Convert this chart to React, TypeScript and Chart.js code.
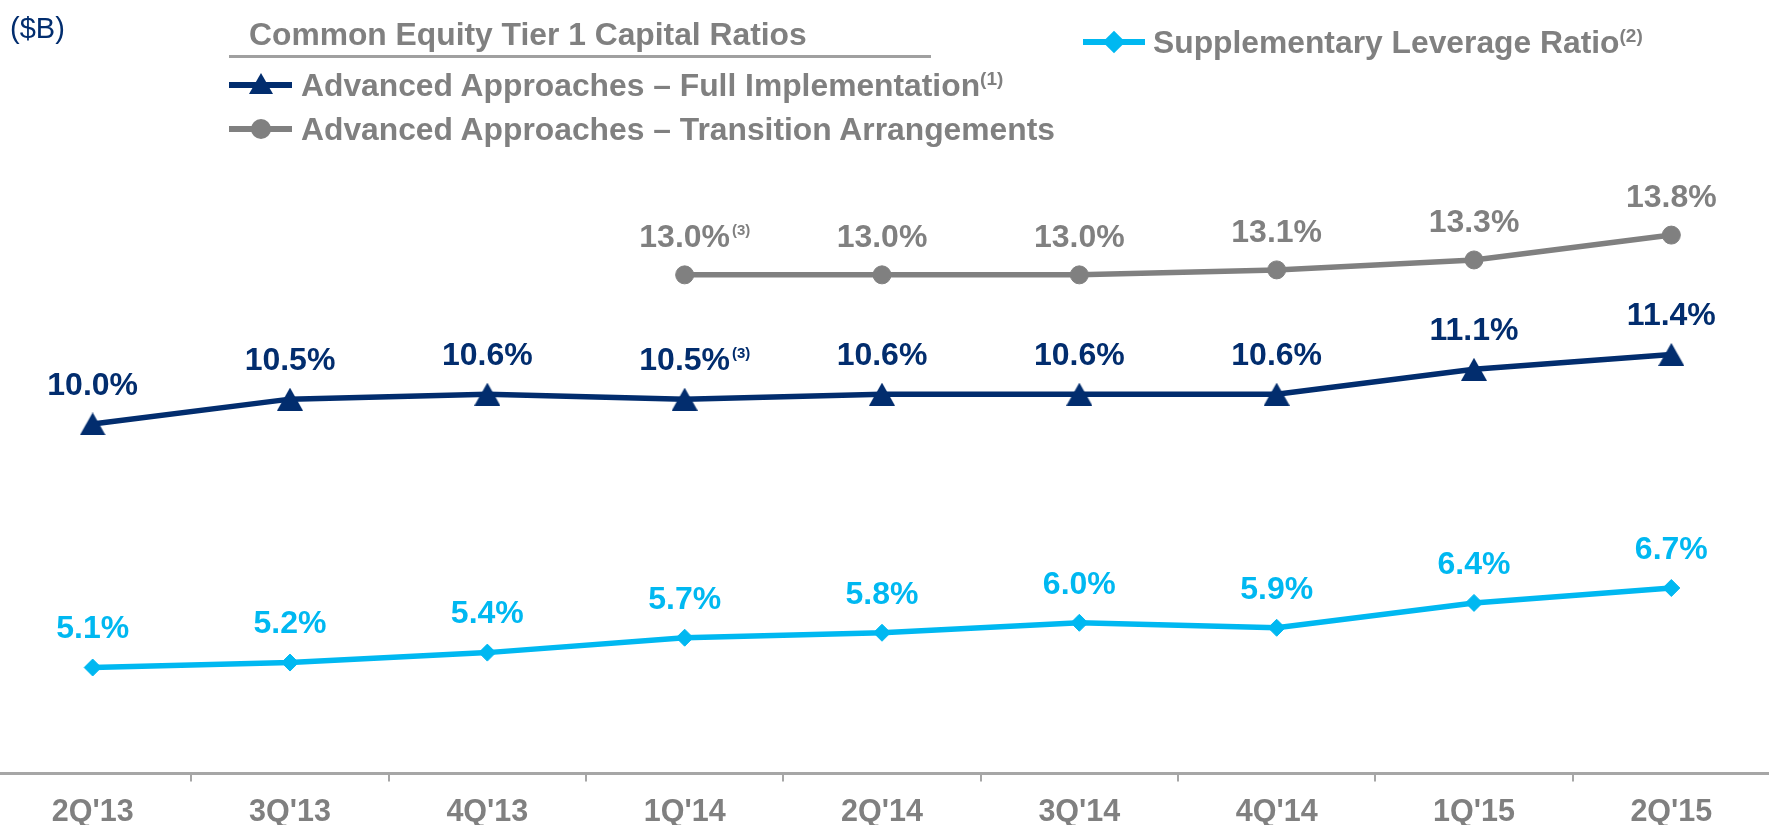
import React, { useEffect, useRef } from "react";
import { Chart, registerables } from "chart.js";

Chart.register(...registerables);

const categories = ["2Q'13", "3Q'13", "4Q'13", "1Q'14", "2Q'14", "3Q'14", "4Q'14", "1Q'15", "2Q'15"];
const fullImplementation = [10.0, 10.5, 10.6, 10.5, 10.6, 10.6, 10.6, 11.1, 11.4];
const transitionArrangements = [null, null, null, 13.0, 13.0, 13.0, 13.1, 13.3, 13.8];
const supplementaryLeverage = [5.1, 5.2, 5.4, 5.7, 5.8, 6.0, 5.9, 6.4, 6.7];
const fullImplementationNotes = ["", "", "", "(3)", "", "", "", "", ""];
const transitionNotes = ["", "", "", "(3)", "", "", "", "", ""];
const supplementaryNotes = ["", "", "", "", "", "", "", "", ""];

const NAVY = "#022D6E";
const GRAY = "#808080";
const CYAN = "#00B8F1";
const FONT = '"Liberation Sans", Arial, sans-serif';

const notesByDataset = [fullImplementationNotes, transitionNotes, supplementaryNotes];
const labelGap = [38, 37, 38];

function makeTriangle(color: string) {
  const c = document.createElement("canvas");
  c.width = 26;
  c.height = 23;
  const g = c.getContext("2d")!;
  g.fillStyle = color;
  g.beginPath();
  g.moveTo(0, 23);
  g.lineTo(13, 0);
  g.lineTo(26, 23);
  g.closePath();
  g.fill();
  return c;
}

const labelPlugin = {
  id: "valueLabels",
  afterDatasetsDraw(chart: any) {
    const ctx = chart.ctx;
    chart.data.datasets.forEach((ds: any, di: number) => {
      const meta = chart.getDatasetMeta(di);
      meta.data.forEach((pt: any, j: number) => {
        const v = ds.data[j];
        if (v === null || v === undefined) return;
        const text = v.toFixed(1) + "%";
        ctx.save();
        ctx.font = `bold 32px ${FONT}`;
        ctx.fillStyle = ds.borderColor;
        ctx.textAlign = "center";
        ctx.textBaseline = "middle";
        const y = pt.y - labelGap[di];
        ctx.fillText(text, pt.x, y);
        const note = notesByDataset[di][j];
        if (note) {
          const w = ctx.measureText(text).width;
          ctx.font = `bold 15px ${FONT}`;
          ctx.textAlign = "left";
          ctx.fillText(note, pt.x + w / 2 + 2, y - 7);
        }
        ctx.restore();
      });
    });
  },
};

function LegendLine({ x1, x2, y, color, marker }: { x1: number; x2: number; y: number; color: string; marker: string }) {
  const cx = (x1 + x2) / 2;
  let m: React.ReactNode = null;
  if (marker === "triangle") {
    m = (
      <div
        style={{
          position: "absolute",
          left: cx - 12,
          top: y - 12,
          width: 0,
          height: 0,
          borderLeft: "12px solid transparent",
          borderRight: "12px solid transparent",
          borderBottom: `21px solid ${color}`,
        }}
      />
    );
  } else if (marker === "circle") {
    m = (
      <div
        style={{
          position: "absolute",
          left: cx - 10,
          top: y - 10,
          width: 20,
          height: 20,
          borderRadius: "50%",
          background: color,
        }}
      />
    );
  } else {
    m = (
      <div
        style={{
          position: "absolute",
          left: cx - 8,
          top: y - 8,
          width: 16,
          height: 16,
          transform: "rotate(45deg)",
          background: color,
        }}
      />
    );
  }
  return (
    <>
      <div style={{ position: "absolute", left: x1, top: y - 3, width: x2 - x1, height: 6, background: color }} />
      {m}
    </>
  );
}

const textStyle: React.CSSProperties = {
  position: "absolute",
  fontFamily: FONT,
  fontWeight: "bold",
  fontSize: 31.8,
  lineHeight: "36px",
  color: GRAY,
  whiteSpace: "nowrap",
};

const supStyle: React.CSSProperties = {
  fontSize: 19,
  verticalAlign: "top",
  position: "relative",
  top: -6,
};

export default function App() {
  const canvasRef = useRef<HTMLCanvasElement | null>(null);

  useEffect(() => {
    document.body.style.margin = "0";
    document.body.style.overflow = "hidden";
    const canvas = canvasRef.current;
    if (!canvas) return;
    const tri = makeTriangle(NAVY);
    const chart = new Chart(canvas, {
      type: "line",
      data: {
        labels: categories,
        datasets: [
          {
            label: "Advanced Approaches – Full Implementation",
            data: fullImplementation,
            borderColor: NAVY,
            backgroundColor: NAVY,
            borderWidth: 5.5,
            pointStyle: tri as any,
            pointRadius: 12.5,
            pointBorderWidth: 1,
            tension: 0,
          },
          {
            label: "Advanced Approaches – Transition Arrangements",
            data: transitionArrangements,
            borderColor: GRAY,
            backgroundColor: GRAY,
            borderWidth: 5.5,
            pointStyle: "circle",
            pointRadius: 9,
            pointBorderWidth: 1,
            tension: 0,
          },
          {
            label: "Supplementary Leverage Ratio",
            data: supplementaryLeverage,
            borderColor: CYAN,
            backgroundColor: CYAN,
            borderWidth: 5.5,
            pointStyle: "rectRot",
            pointRadius: 8.5,
            pointBorderWidth: 1,
            tension: 0,
          },
        ],
      },
      options: {
        responsive: false,
        animation: false,
        layout: { padding: 0, autoPadding: false },
        plugins: { legend: { display: false }, tooltip: { enabled: false } },
        scales: {
          x: {
            type: "category",
            offset: true,
            border: { display: true, color: "#A6A6A6", width: 3 },
            grid: {
              display: true,
              offset: true,
              drawOnChartArea: false,
              drawTicks: true,
              tickLength: 8,
              color: "#A6A6A6",
              lineWidth: 2,
            },
            ticks: {
              color: GRAY,
              padding: 13,
              font: { family: FONT, size: 30.5, weight: "bold" },
            },
          },
          y: {
            display: false,
            min: 2.97,
            max: 18.53,
          },
        },
      },
      plugins: [labelPlugin],
    });
    return () => chart.destroy();
  }, []);

  return (
    <div style={{ position: "absolute", left: 0, top: 0, width: 1769, height: 825, overflow: "hidden", background: "#fff" }}>
      <canvas ref={canvasRef} width={1776} height={844} style={{ position: "absolute", left: -6, top: 0 }} />
      <div style={{ ...textStyle, left: 10, top: 10, fontWeight: "normal", fontSize: 29, color: NAVY }}>($B)</div>
      <div style={{ ...textStyle, left: 249, top: 16 }}>Common Equity Tier 1 Capital Ratios</div>
      <div style={{ position: "absolute", left: 229, top: 55, width: 702, height: 3, background: "#A0A0A0" }} />
      <LegendLine x1={229} x2={292} y={85} color={NAVY} marker="triangle" />
      <div style={{ ...textStyle, left: 301, top: 67 }}>
        Advanced Approaches – Full Implementation<span style={supStyle}>(1)</span>
      </div>
      <LegendLine x1={229} x2={292} y={129} color={GRAY} marker="circle" />
      <div style={{ ...textStyle, left: 301, top: 111 }}>Advanced Approaches – Transition Arrangements</div>
      <LegendLine x1={1083} x2={1145} y={42} color={CYAN} marker="diamond" />
      <div style={{ ...textStyle, left: 1153, top: 24 }}>
        Supplementary Leverage Ratio<span style={supStyle}>(2)</span>
      </div>
    </div>
  );
}
